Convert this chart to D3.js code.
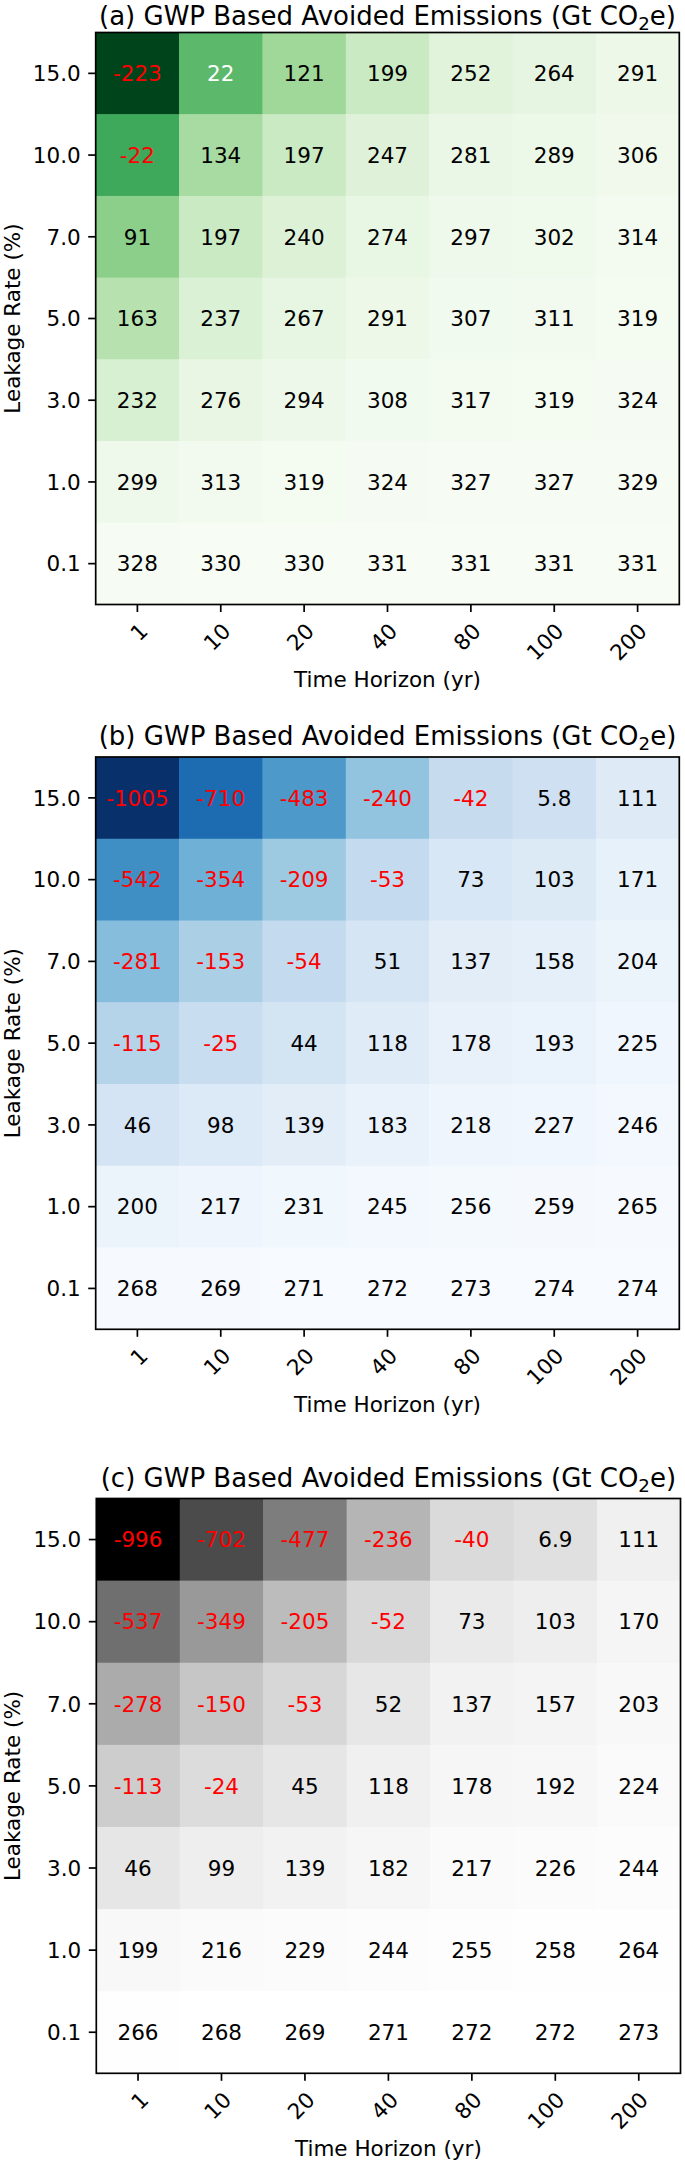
<!DOCTYPE html>
<html>
<head>
<meta charset="utf-8">
<script src="https://cdn.jsdelivr.net/npm/d3@7"></script>
<style>
  html, body { margin: 0; padding: 0; background: #ffffff; }
  svg { display: block; }
  text { font-family: "DejaVu Sans", sans-serif; }
</style>
</head>
<body>
<script>
// ---------------- DATA ----------------
const timeHorizons = ["1", "10", "20", "40", "80", "100", "200"];
const leakageRates = ["15.0", "10.0", "7.0", "5.0", "3.0", "1.0", "0.1"];

// rows: leakage rates top -> bottom, columns: time horizons
const valuesA = [
  [-223, 22, 121, 199, 252, 264, 291],
  [-22, 134, 197, 247, 281, 289, 306],
  [91, 197, 240, 274, 297, 302, 314],
  [163, 237, 267, 291, 307, 311, 319],
  [232, 276, 294, 308, 317, 319, 324],
  [299, 313, 319, 324, 327, 327, 329],
  [328, 330, 330, 331, 331, 331, 331]
];
const valuesB = [
  [-1005, -710, -483, -240, -42, 5.8, 111],
  [-542, -354, -209, -53, 73, 103, 171],
  [-281, -153, -54, 51, 137, 158, 204],
  [-115, -25, 44, 118, 178, 193, 225],
  [46, 98, 139, 183, 218, 227, 246],
  [200, 217, 231, 245, 256, 259, 265],
  [268, 269, 271, 272, 273, 274, 274]
];
const valuesC = [
  [-996, -702, -477, -236, -40, 6.9, 111],
  [-537, -349, -205, -52, 73, 103, 170],
  [-278, -150, -53, 52, 137, 157, 203],
  [-113, -24, 45, 118, 178, 192, 224],
  [46, 99, 139, 182, 217, 226, 244],
  [199, 216, 229, 244, 255, 258, 264],
  [266, 268, 269, 271, 272, 272, 273]
];
const panelLetters = ["(a)", "(b)", "(c)"];
const titleText = "GWP Based Avoided Emissions (Gt CO";
const xLabel = "Time Horizon (yr)";
const yLabel = "Leakage Rate (%)";

// matplotlib ColorBrewer sequential maps (light -> dark)
const greens = ["#f7fcf5","#e5f5e0","#c7e9c0","#a1d99b","#74c476","#41ab5d","#238b45","#006d2c","#00441b"];
const blues  = ["#f7fbff","#deebf7","#c6dbef","#9ecae1","#6baed6","#4292c6","#2171b5","#08519c","#08306b"];
const greys  = ["#ffffff","#f0f0f0","#d9d9d9","#bdbdbd","#969696","#737373","#525252","#252525","#000000"];

// ---------------- LAYOUT ----------------
const W = 685, H = 2162;
const FS = 21.5, TFS = 26;
const panels = [
  { letter: panelLetters[0], values: valuesA, palette: greens, top: 32.5, bottom: 604.5, left: 95.7, right: 679.3 },
  { letter: panelLetters[1], values: valuesB, palette: blues,  top: 757,  bottom: 1329.3, left: 95.7, right: 679.3 },
  { letter: panelLetters[2], values: valuesC, palette: greys,  top: 1498.5, bottom: 2073.3, left: 96.3, right: 680.5 }
];

const svg = d3.select("body").append("svg")
  .attr("width", W).attr("height", H)
  .attr("viewBox", `0 0 ${W} ${H}`);
svg.append("rect").attr("width", W).attr("height", H).attr("fill", "#fff");

panels.forEach(p => {
  const g = svg.append("g");
  const x = d3.scaleBand().domain(timeHorizons).range([p.left, p.right]).padding(0);
  const y = d3.scaleBand().domain(leakageRates).range([p.top, p.bottom]).padding(0);

  const flat = p.values.flat();
  const vmin = d3.min(flat), vmax = d3.max(flat);
  // low values -> dark (reversed map)
  const stops = d3.range(9).map(i => vmax - (vmax - vmin) * i / 8);
  const color = d3.scaleLinear().domain(stops).range(p.palette).interpolate(d3.interpolateRgb);
  const mid = (vmin + vmax) / 2;

  const cells = [];
  p.values.forEach((row, ri) => row.forEach((v, ci) => {
    cells.push({ r: leakageRates[ri], c: timeHorizons[ci], v });
  }));

  g.selectAll("rect.cell").data(cells).enter().append("rect")
    .attr("class", "cell")
    .attr("x", d => x(d.c))
    .attr("y", d => y(d.r))
    .attr("width", x.bandwidth() + 0.5)
    .attr("height", y.bandwidth() + 0.5)
    .attr("fill", d => color(d.v));

  g.selectAll("text.val").data(cells).enter().append("text")
    .attr("class", "val")
    .attr("x", d => x(d.c) + x.bandwidth() / 2)
    .attr("y", d => y(d.r) + y.bandwidth() / 2)
    .attr("dy", "0.36em")
    .attr("text-anchor", "middle")
    .attr("font-size", FS)
    .attr("fill", d => d.v < 0 ? "#ff0000" : (d.v < mid ? "#ffffff" : "#000000"))
    .text(d => String(d.v));

  // border
  g.append("rect")
    .attr("x", p.left).attr("y", p.top)
    .attr("width", p.right - p.left).attr("height", p.bottom - p.top)
    .attr("fill", "none").attr("stroke", "#000").attr("stroke-width", 1.7);

  // y axis
  const ya = g.append("g").attr("transform", `translate(${p.left},0)`)
    .call(d3.axisLeft(y).tickSize(7.5).tickSizeOuter(0).tickPadding(7.5));
  ya.select(".domain").remove();
  ya.selectAll(".tick line").attr("stroke", "#000").attr("stroke-width", 1.7);
  ya.selectAll(".tick text").attr("font-size", FS).attr("fill", "#000")
    .attr("font-family", "DejaVu Sans").attr("dy", "0.36em");

  // x axis
  const xa = g.append("g").attr("transform", `translate(0,${p.bottom})`)
    .call(d3.axisBottom(x).tickSize(7.5).tickSizeOuter(0).tickPadding(7.5));
  xa.select(".domain").remove();
  xa.selectAll(".tick line").attr("stroke", "#000").attr("stroke-width", 1.7);
  xa.selectAll(".tick text")
    .attr("font-size", FS).attr("fill", "#000").attr("font-family", "DejaVu Sans")
    .attr("text-anchor", "middle").attr("y", null).attr("dy", "0.36em")
    .each(function () {
      const L = this.getComputedTextLength();
      const cx = 7 - 0.4 * L;
      const cy = 17 + (L + 16) * 0.3536;
      d3.select(this).attr("transform", `translate(${cx},${cy}) rotate(-45)`);
    });

  // title (kept inside the page at the top)
  const cxAxes = (p.left + p.right) / 2;
  const t = g.append("text")
    .attr("x", cxAxes).attr("y", Math.max(p.top - 12, 24.5))
    .attr("text-anchor", "middle").attr("font-size", TFS).attr("fill", "#000");
  t.append("tspan").text(p.letter + " " + titleText);
  t.append("tspan").attr("font-size", TFS * 0.7).attr("dy", 5).text("2");
  t.append("tspan").attr("dy", -5).text("e)");

  // x label
  g.append("text")
    .attr("x", cxAxes).attr("y", p.bottom + 82.5)
    .attr("text-anchor", "middle").attr("font-size", FS).attr("fill", "#000")
    .text(xLabel);

  // y label
  g.append("text")
    .attr("transform", `translate(20.3,${(p.top + p.bottom) / 2}) rotate(-90)`)
    .attr("text-anchor", "middle").attr("font-size", FS).attr("fill", "#000")
    .text(yLabel);
});
</script>
</body>
</html>
